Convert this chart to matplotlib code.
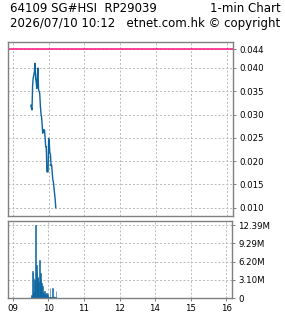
import numpy as np
import pandas as pd
import matplotlib
matplotlib.use("Agg")
from matplotlib import pyplot as plt

# 1-min data, 09:30 .. 10:12
start_time = "2026-07-10 09:30"
price = [0.0320, 0.0314, 0.0310, 0.0363, 0.0379, 0.0385, 0.0392, 0.0410, 0.0378, 0.0370,
         0.0356, 0.0385, 0.0400, 0.0353, 0.0350, 0.0345, 0.0320, 0.0303, 0.0295, 0.0280,
         0.0260, 0.0267, 0.0267, 0.0267, 0.0250, 0.0231, 0.0231, 0.0177, 0.0177, 0.0177,
         0.0249, 0.0240, 0.0217, 0.0215, 0.0190, 0.0192, 0.0175, 0.0160, 0.0155, 0.0142,
         0.0130, 0.0117, 0.0100]
volume_m = [0.3, 0.5, 4.6, 4.2, 1.0, 3.4, 3.0, 2.5, 12.39, 5.6,
            4.5, 3.6, 3.4, 2.8, 6.5, 3.0, 4.2, 3.2, 2.5, 2.0,
            1.0, 0.8, 0.5, 1.2, 0.6, 0.3, 0.9, 0.4, 0.6, 0.3,
            0.2, 0.1, 1.7, 0.2, 0.1, 0.2, 1.7, 0.2, 0.1, 0.3,
            0.2, 0.2, 1.2]
ref_level = 0.044

price_ticks = [0.010, 0.015, 0.020, 0.025, 0.030, 0.035, 0.040, 0.044]
vol_ticks = [0, 3.10e6, 6.20e6, 9.29e6, 12.39e6]
vol_labels = ["0", "3.10M", "6.20M", "9.29M", "12.39M"]
hour_ticks = ["09:00", "10:00", "11:00", "12:00", "14:00", "15:00", "16:00"]
hour_labels = ["09", "10", "11", "12", "14", "15", "16"]

def tx(ts):
    # trading-hours axis, lunch break squeezed out
    t = pd.Timestamp(ts)
    h = t.hour + t.minute / 60.0
    return h - 9 if h <= 12 else h - 10

times = pd.date_range(start_time, periods=len(price), freq="1min")
x = np.array([tx(t) for t in times])
vol = np.array(volume_m) * 1e6

blue = "#0b64a0"
grey = "#808080"
gridc = "#b8b8b8"

fig = plt.figure(figsize=(2.85, 3.18), dpi=100)
ax = fig.add_axes([8/285, 1-216/318, 225/285, 174/318])
axv = fig.add_axes([8/285, 1-298/318, 224/285, 77/318])

xt = [tx("2026-07-10 " + h) for h in hour_ticks]

ax.plot(x, price, color=blue, lw=1.0)
ax.axhline(ref_level, color="#ff1080", lw=1.1)
ax.set_ylim(0.00822, 0.04558)
ax.set_yticks(price_ticks)
ax.set_yticklabels(["%.3f" % v for v in price_ticks])

axv.bar(x, vol, width=1/60, align="edge", color=blue, edgecolor=blue, lw=0.4)
axv.set_ylim(0, 13.1e6)
axv.set_yticks(vol_ticks)
axv.set_yticklabels(vol_labels)

for a in (ax, axv):
    a.set_xlim(-0.14, 6.168)
    a.set_xticks(xt)
    a.grid(True, color=gridc, ls=(0, (2, 2)), lw=0.7)
    a.set_axisbelow(True)
    for s in a.spines.values():
        s.set_color(grey)
        s.set_linewidth(1.0)
    a.yaxis.tick_right()
    a.tick_params(axis="both", colors=grey, labelcolor="black", labelsize=6.2,
                  length=2.5, width=0.7, pad=2)

ax.tick_params(axis="x", labelbottom=False, length=0)
axv.set_xticklabels(hour_labels)

fig.text(10/285, 1-8/318, "64109 SG#HSI  RP29039", fontsize=8.5, va="center", ha="left")
fig.text(281/285, 1-8/318, "1-min Chart", fontsize=8.5, va="center", ha="right")
fig.text(10/285, 1-23/318, "2026/07/10 10:12   etnet.com.hk \u00a9 copyright",
         fontsize=8.5, va="center", ha="left")

fig.savefig("out.png", dpi=100)
